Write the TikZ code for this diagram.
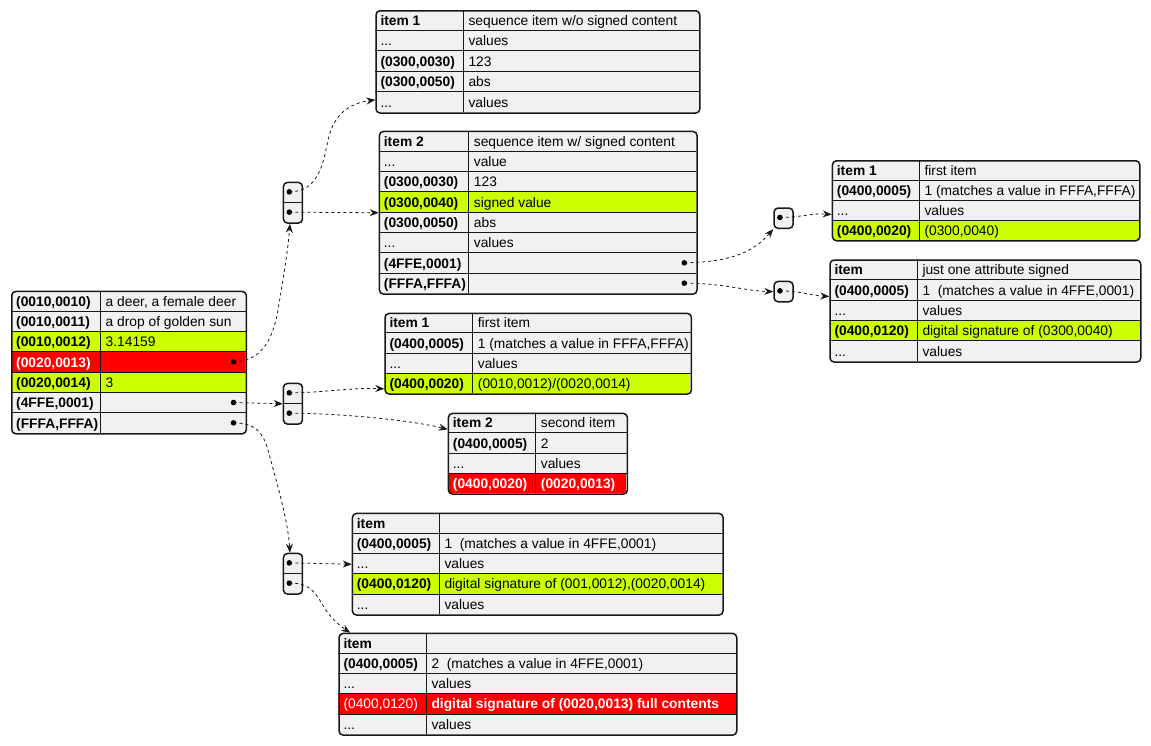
\documentclass[tikz,border=0pt]{standalone}
\usepackage{fontspec}
\setmainfont{Liberation Sans}
\usetikzlibrary{arrows.meta,calc}
\definecolor{cellbg}{HTML}{F1F1F1}
\definecolor{sgreen}{HTML}{CCFF00}
\definecolor{sred}{HTML}{FF0000}
\definecolor{ink}{HTML}{181818}
\tikzset{
  frame/.style={draw=ink, line width=1.5pt, rounded corners=4pt, inner sep=0pt, anchor=north west},
  grid/.style={draw=ink, line width=0.9pt},
  txt/.style={font=\fontsize{13.8}{16}\selectfont, inner sep=0pt, anchor=base west, text=black},
  kb/.style={txt, font=\fontsize{13.8}{16}\selectfont\bfseries},
  kw/.style={kb, text=white},
  vw/.style={txt, text=white},
  conn/.style={draw=ink, line width=0.8pt, dash pattern=on 3pt off 3pt,
    -{Stealth[length=9pt,width=7pt,inset=3pt]}},
}
\newcommand\tabstart[7]{% name x1 xm x2 y0 h n
  \def\jtn{#1}\def\jtx{#2}\def\jtm{#3}\def\jtr{#4}\def\jty{#5}\def\jth{#6}\def\jtc{#7}%
  \pgfmathsetmacro\jtb{#5+#6*#7}}
\newcommand\jrow[6]{% i fill keystyle key valstyle val
  \pgfmathsetmacro\jra{\jty+\jth*#1}\pgfmathsetmacro\jrb{\jra+\jth}%
  \begin{scope}
    \clip[rounded corners=4pt] (\jtx,\jty) rectangle (\jtr,\jtb);
    \fill[#2] (\jtx,\jra) rectangle (\jtr,\jrb);
  \end{scope}
  \node[#3] (\jtn-k#1) at ({\jtx+5},{\jrb-5}) {#4};
  \node[#5] (\jtn-v#1) at ({\jtm+5},{\jrb-5}) {#6};
}
\newcommand\tabend{%
  \pgfmathtruncatemacro\jtl{\jtc-1}%
  \foreach \k in {1,...,\jtl} {\draw[grid] (\jtx,{\jty+\k*\jth}) -- (\jtr,{\jty+\k*\jth});}
  \draw[grid] (\jtm,\jty) -- (\jtm,\jtb);
  \node[frame, minimum width={(\jtr-\jtx)*1pt}, minimum height={(\jtb-\jty)*1pt}] (\jtn) at (\jtx,\jty) {};
}
\newcommand\dotin[1]{%
  \coordinate (\jtn-d#1) at ({\jtr-12},{\jty+\jth*(#1+0.5)});
  \fill (\jtn-d#1) circle (2.8pt);}
\newcommand\ptrbox[4]{% name x y nrows
  \node[frame, fill=cellbg, minimum width=19pt, minimum height={#4*20.3pt}] (#1) at (#2,#3) {};
  \coordinate (#1-d1) at ({#2+6.6},{#3+10.15});
  \fill (#1-d1) circle (2.8pt);
  \ifnum#4=2
    \draw[grid] (#2,{#3+20.3}) -- ({#2+19},{#3+20.3});
    \coordinate (#1-d2) at ({#2+6.6},{#3+30.45});
    \fill (#1-d2) circle (2.8pt);
  \fi
}
\begin{document}
\begin{tikzpicture}[x=1pt,y=-1pt]
\useasboundingbox (0,0) rectangle (1151,745);

% ---- main table A
\tabstart{tA}{11}{100.5}{245.5}{290.7}{20.33}{7}
\jrow{0}{cellbg}{kb}{(0010,0010)}{txt}{a deer, a female deer}
\jrow{1}{cellbg}{kb}{(0010,0011)}{txt}{a drop of golden sun}
\jrow{2}{sgreen}{kb}{(0010,0012)}{txt}{3.14159}
\jrow{3}{sred}{kw}{(0020,0013)}{txt}{}
\jrow{4}{sgreen}{kb}{(0020,0014)}{txt}{3}
\jrow{5}{cellbg}{kb}{(4FFE,0001)}{txt}{}
\jrow{6}{cellbg}{kb}{(FFFA,FFFA)}{txt}{}
\tabend
\dotin{3}\dotin{5}\dotin{6}

% ---- table B
\tabstart{tB}{375.3}{463.3}{699}{10}{20.46}{5}
\jrow{0}{cellbg}{kb}{item 1}{txt}{sequence item w/o signed content}
\jrow{1}{cellbg}{txt}{...}{txt}{values}
\jrow{2}{cellbg}{kb}{(0300,0030)}{txt}{123}
\jrow{3}{cellbg}{kb}{(0300,0050)}{txt}{abs}
\jrow{4}{cellbg}{txt}{...}{txt}{values}
\tabend

% ---- table C
\tabstart{tC}{378.7}{468.7}{696.3}{130.7}{20.33}{8}
\jrow{0}{cellbg}{kb}{item 2}{txt}{sequence item w/ signed content}
\jrow{1}{cellbg}{txt}{...}{txt}{value}
\jrow{2}{cellbg}{kb}{(0300,0030)}{txt}{123}
\jrow{3}{sgreen}{kb}{(0300,0040)}{txt}{signed value}
\jrow{4}{cellbg}{kb}{(0300,0050)}{txt}{abs}
\jrow{5}{cellbg}{txt}{...}{txt}{values}
\jrow{6}{cellbg}{kb}{(4FFE,0001)}{txt}{}
\jrow{7}{cellbg}{kb}{(FFFA,FFFA)}{txt}{}
\tabend
\dotin{6}\dotin{7}

% ---- table D
\tabstart{tD}{831.7}{919.3}{1139}{160}{20}{4}
\jrow{0}{cellbg}{kb}{item 1}{txt}{first item}
\jrow{1}{cellbg}{kb}{(0400,0005)}{txt}{1 (matches a value in FFFA,FFFA)}
\jrow{2}{cellbg}{txt}{...}{txt}{values}
\jrow{3}{sgreen}{kb}{(0400,0020)}{txt}{(0300,0040)}
\tabend

% ---- table E
\tabstart{tE}{829.3}{917.3}{1140}{259.3}{20.4}{5}
\jrow{0}{cellbg}{kb}{item}{txt}{just one attribute signed}
\jrow{1}{cellbg}{kb}{(0400,0005)}{txt}{1\ \ (matches a value in 4FFE,0001)}
\jrow{2}{cellbg}{txt}{...}{txt}{values}
\jrow{3}{sgreen}{kb}{(0400,0120)}{txt}{digital signature of (0300,0040)}
\jrow{4}{cellbg}{txt}{...}{txt}{values}
\tabend

% ---- table F
\tabstart{tF}{384.3}{472.7}{690.7}{312.7}{20.15}{4}
\jrow{0}{cellbg}{kb}{item 1}{txt}{first item}
\jrow{1}{cellbg}{kb}{(0400,0005)}{txt}{1 (matches a value in FFFA,FFFA)}
\jrow{2}{cellbg}{txt}{...}{txt}{values}
\jrow{3}{sgreen}{kb}{(0400,0020)}{txt}{(0010,0012)/(0020,0014)}
\tabend

% ---- table G
\tabstart{tG}{447.7}{535.7}{626.7}{412.7}{20.15}{4}
\jrow{0}{cellbg}{kb}{item 2}{txt}{second item}
\jrow{1}{cellbg}{kb}{(0400,0005)}{txt}{2}
\jrow{2}{cellbg}{txt}{...}{txt}{values}
\jrow{3}{sred}{kw}{(0400,0020)}{kw}{(0020,0013)}
\tabend

% ---- table H
\tabstart{tH}{351.7}{439.3}{722.3}{512.7}{20.32}{5}
\jrow{0}{cellbg}{kb}{item}{txt}{}
\jrow{1}{cellbg}{kb}{(0400,0005)}{txt}{1\ \ (matches a value in 4FFE,0001)}
\jrow{2}{cellbg}{txt}{...}{txt}{values}
\jrow{3}{sgreen}{kb}{(0400,0120)}{txt}{digital signature of (001,0012),(0020,0014)}
\jrow{4}{cellbg}{txt}{...}{txt}{values}
\tabend

% ---- table I
\tabstart{tI}{338.3}{426.3}{736}{632.7}{20.32}{5}
\jrow{0}{cellbg}{kb}{item}{txt}{}
\jrow{1}{cellbg}{kb}{(0400,0005)}{txt}{2\ \ (matches a value in 4FFE,0001)}
\jrow{2}{cellbg}{txt}{...}{txt}{values}
\jrow{3}{sred}{vw}{(0400,0120)}{kw}{digital signature of (0020,0013) full contents}
\jrow{4}{cellbg}{txt}{...}{txt}{values}
\tabend

% ---- pointer boxes
\ptrbox{b1}{282.7}{181.7}{2}
\ptrbox{b2}{773.3}{207.3}{1}
\ptrbox{b3}{773.3}{280.7}{1}
\ptrbox{b4}{282.7}{382.7}{2}
\ptrbox{b5}{282.7}{552.7}{2}

% ---- arrow targets
\coordinate (b1-in) at ([xshift=-3pt]b1.south);
\coordinate (b5-in) at ([xshift=-3pt]b5.north);
\coordinate (tB-in) at ([yshift=14pt]tB.south west);
\coordinate (tD-in) at ([yshift=27pt]tD.south west);
\coordinate (tE-in) at ([yshift=14.6pt]tE.west);
\coordinate (tF-in) at ([yshift=6pt]tF.south west);
\coordinate (tG-in) at ([yshift=-16.6pt]tG.north west);
\coordinate (tI-in) at ([xshift=12pt]tI.north west);

% ---- connectors
\draw[conn] (tA-d3) .. controls (258,361.3) and (272,345) .. (278,310)
  .. controls (283,280) and (288,250) .. (b1-in);
\draw[conn] (tA-d5) -- (b4.west);
\draw[conn] (tA-d6) .. controls (255,423) and (263,432) .. (268,450)
  .. controls (276,480) and (288,520) .. (b5-in);
\draw[conn] (b1-d1) .. controls (318,191.7) and (323,165) .. (328,140)
  .. controls (334,112) and (352,103) .. (tB-in);
\draw[conn] (b1-d2) -- (tC.west);
\draw[conn] (tC-d6) .. controls (735,262) and (755,250) .. (b2.south west);
\draw[conn] (tC-d7) .. controls (725,283.3) and (745,291) .. (b3.west);
\draw[conn] (b2-d1) .. controls (800,217.5) and (812,213) .. (tD-in);
\draw[conn] (b3-d1) .. controls (800,291) and (812,295.5) .. (tE-in);
\draw[conn] (b4-d1) .. controls (320,393) and (350,387.5) .. (tF-in);
\draw[conn] (b4-d2) .. controls (340,413.3) and (410,420) .. (tG-in);
\draw[conn] (b5-d1) -- (tH.west);
\draw[conn] (b5-d2) .. controls (315,582.3) and (318,600) .. (328,613)
  .. controls (335,622) and (343,628) .. (tI-in);
\end{tikzpicture}
\end{document}
